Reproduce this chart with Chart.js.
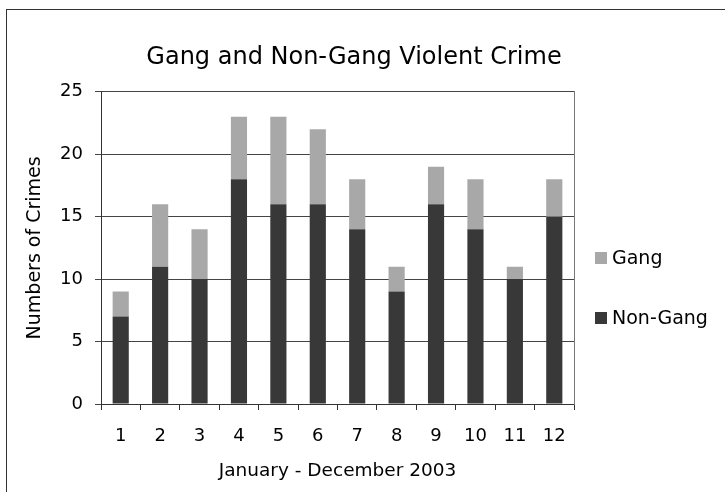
<!DOCTYPE html>
<html>
<head>
<meta charset="utf-8">
<script src="https://cdn.jsdelivr.net/npm/chart.js@4/dist/chart.umd.min.js"></script>
<style>
  html, body { margin: 0; padding: 0; background: #fff; }
  #wrap { position: relative; width: 725px; height: 492px; }
</style>
</head>
<body>
<div id="wrap"><canvas id="crime-chart" width="725" height="492"></canvas></div>
<script>
var months = ["1","2","3","4","5","6","7","8","9","10","11","12"];
var nonGang = [7, 11, 10, 18, 16, 16, 14, 9, 16, 14, 10, 15];
var gang = [2, 5, 4, 5, 7, 6, 4, 2, 3, 4, 1, 3];
var yTicks = [0, 5, 10, 15, 20, 25];

var font = "'DejaVu Sans', Verdana, sans-serif";

// outer frame + legend
var framePlugin = {
    id: "frame",
    beforeDraw: function(chart){
        var c = chart.ctx;
        c.save();
        c.fillStyle = "#fff";
        c.fillRect(0, 0, chart.width, chart.height);
        c.strokeStyle = "#333";
        c.lineWidth = 1;
        c.strokeRect(6.5, 9.5, 900, 700);
        c.restore();
    },
    afterDraw: function(chart){
        var c = chart.ctx, a = chart.chartArea;
        c.save();
        // legend, Gang on top
        var items = chart.data.datasets.slice().reverse();
        c.font = "19px " + font;
        c.textBaseline = "middle";
        items.forEach(function(ds, i){
            var y = 258 + i * 60;
            c.fillStyle = ds.backgroundColor;
            c.fillRect(a.right + 21, y - 6, 12, 12);
            c.fillStyle = "#000";
            c.fillText(ds.label, a.right + 38, y + 1);
        });
        c.restore();
    }
};

var chartData = {
    labels: months,
    datasets: [{
        label: "Non-Gang",
        data: nonGang,
        backgroundColor: "#383838",
        borderWidth: 0
    },{
        label: "Gang",
        data: gang,
        backgroundColor: "#a8a8a8",
        borderWidth: 0
    }]
};

var chartOptions = {
    responsive: false,
    animation: false,
    layout: { padding: { left: 0, right: 17, top: 0, bottom: 10 } },
    datasets: { bar: { categoryPercentage: 1, barPercentage: 0.41 } },
    plugins: {
        legend: { display: false },
        tooltip: { enabled: false },
        title: {
            display: true,
            text: "Gang and Non-Gang Violent Crime",
            color: "#000",
            font: { family: font, size: 24, weight: "normal" },
            padding: { top: 43, bottom: 20 }
        }
    },
    scales: {
        x: {
            stacked: true,
            grid: { offset: true, drawOnChartArea: false, drawTicks: true, tickLength: 6, color: "#333" },
            border: { display: true, color: "#333" },
            ticks: { color: "#000", font: { family: font, size: 18 }, padding: 16, maxRotation: 0 },
            title: { display: true, text: "January - December 2003", color: "#000",
                     font: { family: font, size: 18.5 }, padding: { top: 11, bottom: 0 } },
            afterFit: function(s){ s.height = 78; }
        },
        y: {
            stacked: true,
            min: 0, max: 25,
            afterBuildTicks: function(s){ s.ticks = yTicks.map(function(v){ return { value: v }; }); },
            grid: { color: "#444", tickLength: 6 },
            border: { display: true, color: "#333" },
            ticks: { color: "#000", font: { family: font, size: 18 }, padding: 12 },
            title: { display: true, text: "Numbers of Crimes", color: "#000",
                     font: { family: font, size: 19 }, padding: { top: 24, bottom: 4 } },
            afterFit: function(s){ s.width = 101; }
        },
        // empty right axis: plot border on the right + room for the legend
        y2: {
            position: "right",
            min: 0, max: 25,
            grid: { drawOnChartArea: false, drawTicks: false },
            border: { display: true, color: "#777" },
            ticks: { display: false },
            afterFit: function(s){ s.width = 134; }
        }
    }
};

new Chart(document.getElementById("crime-chart"), {
    type: "bar",
    data: chartData,
    options: chartOptions,
    plugins: [framePlugin]
});
</script>
</body>
</html>
